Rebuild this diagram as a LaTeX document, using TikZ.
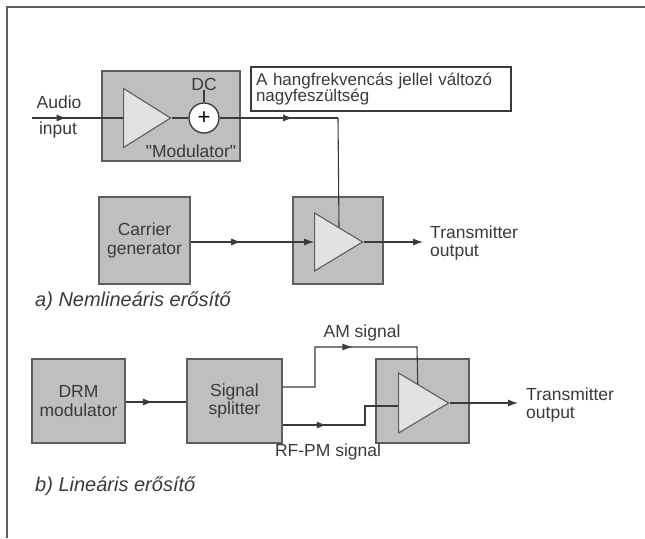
\documentclass[tikz,border=0pt]{standalone}
\usepackage{fontspec}
\setmainfont{Liberation Sans}
\definecolor{mInk}{HTML}{3A3A3A}
\definecolor{mEdge}{HTML}{5E5E5E}
\definecolor{mBox}{HTML}{BFBFBF}
\definecolor{mTri}{HTML}{E2E2E2}
\usetikzlibrary{positioning,arrows.meta,calc,shapes.geometric,decorations.markings}

\tikzset{
  blk/.style={draw=mEdge, fill=mBox, line width=1.3pt, inner sep=0pt, align=center, text=mInk},
  amp/.style={isosceles triangle, isosceles triangle stretches, draw=mEdge, fill=mTri,
    line width=1.1pt, inner sep=0pt, anchor=lower side, minimum width=#1},
  wire/.style={draw=mInk, line width=1.1pt},
  midtip/.style={postaction={decorate}, decoration={markings,
    mark=at position #1 with {\arrow{Latex[length=10pt,width=7pt]}}}},
  lbl/.style={text=mInk, align=left, inner sep=0pt},
  caption/.style={text=mInk, anchor=west, inner sep=0pt, font=\fontsize{20}{22}\selectfont\itshape},
}

\begin{document}
\begin{tikzpicture}[x=1pt, y=-1pt, font=\fontsize{17.5}{18.5}\selectfont,
  >={Latex[length=10pt,width=7pt]}]
\useasboundingbox (0,0) rectangle (645,538);
% frame
\draw[mEdge, line width=1.4pt] (7,538) -- (7,7) -- (645,7);

% a) nonlinear amplifier
\node[blk, minimum width=138pt, minimum height=90pt] (modbox) at (171,116) {};
\node[amp=59pt, minimum height=47pt] (modtri) at (123,118) {};
\node[circle, draw=mInk, fill=white, line width=1.3pt, minimum size=30pt, inner sep=0pt] (sum) at (204,118) {\fontsize{22}{22}\selectfont +};
\node[lbl] (dc) at (204,84) {DC};
\node[lbl, anchor=south] (modlbl) at (191,158) {\textquotedbl Modulator\textquotedbl};
\coordinate (ain) at (32,118);
\node[lbl] (audio) at (59,102) {Audio};
\node[lbl] (input) at (58,130) {input};
\node[draw=mInk, fill=white, line width=1.1pt, minimum width=260pt, minimum height=44pt,
  text width=250pt, inner xsep=5pt, align=left, text=mInk, font=\fontsize{17}{16.5}\selectfont] (note) at (381,89)
  {A hangfrekvencás jellel változó\\nagyfeszültség};

\node[blk, minimum width=91pt, minimum height=87pt] (carrier) at (144.5,240.5) {Carrier\\generator};
\node[blk, minimum width=90pt, minimum height=87pt] (ampbox) at (338,240.5) {};
\node[amp=58pt, minimum height=48pt] (amptri) at (314,242) {};
\coordinate (bend) at (338,118);
\coordinate (outa) at (423,242);
\node[lbl, anchor=west] (txa) at (430,243) {Transmitter\\output};

\draw[wire, midtip=0.38] (ain) -- (modtri.lower side);
\draw[wire] (modtri.apex) -- (sum.west);
\draw[wire] (dc.south) -- (sum.north);
\draw[wire, midtip=0.62] (sum.east) -- (bend);
\draw[wire] (bend) -- ($(amptri.left corner)!0.5!(amptri.apex)$);
\draw[wire, midtip=0.41, ->] (carrier.east |- amptri.lower side) -- (amptri.lower side);
\draw[wire, ->] (amptri.apex) -- (outa);
\node[caption] (capa) at (35,301) {a) Nemlineáris erősítő};

% b) linear amplifier
\node[blk, minimum width=93pt, minimum height=84pt] (drm) at (78.5,401) {DRM\\modulator};
\node[blk, minimum width=95pt, minimum height=84pt] (split) at (234.5,401) {Signal\\splitter};
\node[blk, minimum width=93pt, minimum height=84pt] (ampboxb) at (422.5,401) {};
\node[amp=60pt, minimum height=50pt] (amptrib) at (398,403) {};
\coordinate (amtop) at (417,347);
\coordinate (outb) at (518,403);
\node[lbl] (amlbl) at (362,333) {AM signal};
\node[lbl] (pmlbl) at (328,452) {RF-PM signal};
\node[lbl, anchor=west] (txb) at (526,405) {Transmitter\\output};

\draw[wire, midtip=0.45] (drm.east |- 0,402) -- (split.west |- 0,402);
\draw[wire, midtip=0.52] (split.east |- 0,387) -- (315,387) -- (315,347) -- (amtop)
  -- ($(amptrib.left corner)!0.38!(amptrib.apex)$);
\draw[draw=mInk, line width=2.8pt, midtip=0.33] (split.east |- 0,425) -- (365,425) -- (365,406) -- (amptrib.lower side |- 0,406);
\draw[wire, ->] (amptrib.apex) -- (outb);
\node[caption] (capb) at (35,486) {b) Lineáris erősítő};
\end{tikzpicture}
\end{document}
